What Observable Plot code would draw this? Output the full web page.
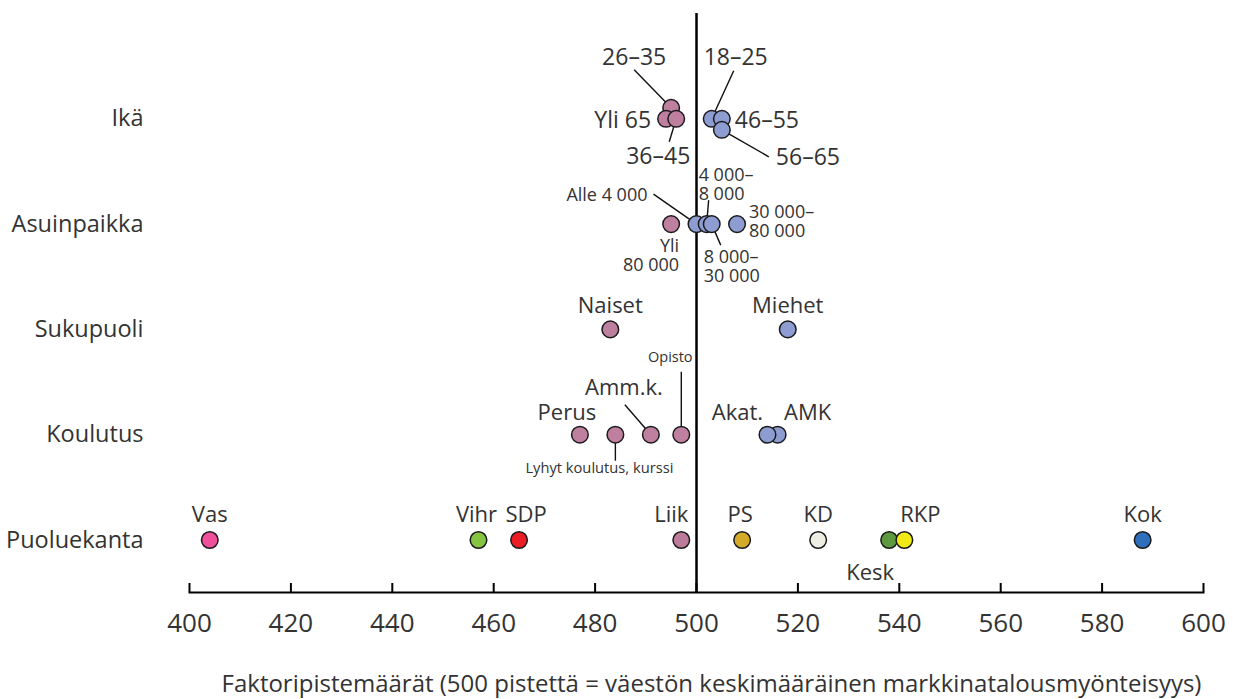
<!DOCTYPE html>
<html>
<head>
<meta charset="utf-8">
<script src="https://cdn.jsdelivr.net/npm/d3@7"></script>
<script src="https://cdn.jsdelivr.net/npm/@observablehq/plot@0.6"></script>
<style>
  html, body { margin: 0; padding: 0; background: #fff; }
  #chart svg { display: block; }
</style>
</head>
<body>
<div id="chart"></div>
<script>
// ---------------- DATA ----------------
const rows = ["Ikä", "Asuinpaikka", "Sukupuoli", "Koulutus", "Puoluekanta"];

const ageLabels = ["26–35", "Yli 65", "36–45", "18–25", "46–55", "56–65"];
const ageValues = [495, 494, 496, 503, 505, 505];
const ageLanes  = [-1, 0, 0, 0, 0, 1];   // stacking lane inside the row

const residenceLabels = ["Yli\n80 000", "Alle 4 000", "4 000–\n8 000", "8 000–\n30 000", "30 000–\n80 000"];
const residenceValues = [495, 500, 502, 503, 508];

const genderLabels = ["Naiset", "Miehet"];
const genderValues = [483, 518];

const educationLabels = ["Perus", "Lyhyt koulutus, kurssi", "Amm.k.", "Opisto", "AMK", "Akat."];
const educationValues = [477, 484, 491, 497, 516, 514];

const partyLabels = ["Vas", "Vihr", "SDP", "Liik", "PS", "KD", "Kesk", "RKP", "Kok"];
const partyValues = [404, 457, 465, 497, 509, 524, 538, 541, 588];

const xTicks = [400, 420, 440, 460, 480, 500, 520, 540, 560, 580, 600];
const axisTitle = "Faktoripistemäärät (500 pistettä = väestön keskimääräinen markkinatalousmyönteisyys)";

// ---------------- STYLE ----------------
const PINK = "#bf7f9f";
const BLUE = "#8d9dd2";
const partyColors = {
  "Vas": "#f0509b", "Vihr": "#84c441", "SDP": "#ec1c24", "Liik": "#bd7b9c",
  "PS": "#d4ab29", "KD": "#efeee4", "Kesk": "#5b9a3e", "RKP": "#f2ea17", "Kok": "#2e6fbb"
};
const TEXT = "#333";

// ---------------- LAYOUT ----------------
const W = 1233, H = 699, ML = 189, MR = 30, MT = 13, MB = 107;
const ROW_TOP = 118.3, ROW_BOTTOM = 539.5;
const X_DOMAIN = [400, 600];
const pxX = (W - ML - MR) / (X_DOMAIN[1] - X_DOMAIN[0]);
const pxY = (ROW_BOTTOM - ROW_TOP) / (rows.length - 1);
const LANE_PX = 11;

// label placement relative to the dot, in pixels; leader = start of leader line
const labelLayout = {
  "26–35":   {dx: -37, dy: -51, anchor: "middle", size: 23, leader: [-37, -38]},
  "Yli 65":  {dx: -15, dy: 1, anchor: "end", size: 23},
  "36–45":   {dx: -18, dy: 37, anchor: "middle", size: 23, leader: [-7, 23]},
  "18–25":   {dx: 24, dy: -62, anchor: "middle", size: 23, leader: [22, -48]},
  "46–55":   {dx: 13, dy: 1, anchor: "start", size: 23},
  "56–65":   {dx: 54, dy: 27, anchor: "start", size: 23, leader: [47, 27]},

  "Yli\n80 000":      {dx: 8, dy: 31, anchor: "end", size: 18},
  "Alle 4 000":       {dx: -49, dy: -29, anchor: "end", size: 18, leader: [-43, -30]},
  "4 000–\n8 000":    {dx: -8, dy: -40, anchor: "start", size: 18, leader: [2, -24]},
  "8 000–\n30 000":   {dx: -8, dy: 42, anchor: "start", size: 18, leader: [9, 21]},
  "30 000–\n80 000":  {dx: 12, dy: -3, anchor: "start", size: 18},

  "Naiset":  {dx: 0, dy: -24, anchor: "middle"},
  "Miehet":  {dx: 0, dy: -24, anchor: "middle"},

  "Perus":   {dx: -13, dy: -22, anchor: "middle"},
  "Lyhyt koulutus, kurssi": {dx: -16, dy: 33, anchor: "middle", size: 14.7, leader: [0, 26]},
  "Amm.k.":  {dx: -27, dy: -47, anchor: "middle", leader: [-26, -30]},
  "Opisto":  {dx: -11, dy: -78, anchor: "middle", size: 14.5, leader: [0, -63]},
  "Akat.":   {dx: -30, dy: -22, anchor: "middle"},
  "AMK":     {dx: 30, dy: -22, anchor: "middle"},

  "Vas":  {dx: 0, dy: -25, anchor: "middle"},
  "Vihr": {dx: -2, dy: -25, anchor: "middle"},
  "SDP":  {dx: 7, dy: -25, anchor: "middle"},
  "Liik": {dx: -10, dy: -25, anchor: "middle"},
  "PS":   {dx: -2, dy: -25, anchor: "middle"},
  "KD":   {dx: 0, dy: -25, anchor: "middle"},
  "Kesk": {dx: -19, dy: 33, anchor: "middle"},
  "RKP":  {dx: 16, dy: -25, anchor: "middle"},
  "Kok":  {dx: 0, dy: -25, anchor: "middle"}
};

// ---------------- BUILD ----------------
const groups = [
  {row: "Ikä", labels: ageLabels, values: ageValues, lanes: ageLanes},
  {row: "Asuinpaikka", labels: residenceLabels, values: residenceValues},
  {row: "Sukupuoli", labels: genderLabels, values: genderValues},
  {row: "Koulutus", labels: educationLabels, values: educationValues},
  {row: "Puoluekanta", labels: partyLabels, values: partyValues, party: true}
];

const points = [];
for (const g of groups) {
  g.labels.forEach((label, i) => {
    points.push({
      row: rows.indexOf(g.row),
      label,
      value: g.values[i],
      lane: g.lanes ? g.lanes[i] : 0,
      party: !!g.party
    });
  });
}

const yOf = d => d.row + d.lane * LANE_PX / pxY;
const fillOf = d => d.party ? partyColors[d.label] : (d.value < 500 ? PINK : BLUE);
const lay = d => labelLayout[d.label];

const labels = points.map(d => ({
  text: d.label,
  x: d.value + lay(d).dx / pxX,
  y: yOf(d) + lay(d).dy / pxY,
  anchor: lay(d).anchor,
  size: lay(d).size || 22
}));

const leaders = points.filter(d => lay(d).leader).map(d => ({
  x1: d.value + lay(d).leader[0] / pxX,
  y1: yOf(d) + lay(d).leader[1] / pxY,
  x2: d.value,
  y2: yOf(d)
}));

const textMark = anchor => Plot.text(labels.filter(l => l.anchor === anchor), {
  x: "x", y: "y", text: "text", textAnchor: anchor,
  fontSize: "size", lineHeight: 1.05, lineAnchor: "middle", fill: TEXT
});

const chart = Plot.plot({
  width: W, height: H,
  marginLeft: ML, marginRight: MR, marginTop: MT, marginBottom: MB,
  x: {domain: X_DOMAIN},
  y: {domain: [0, rows.length - 1], range: [ROW_TOP, ROW_BOTTOM]},
  color: {type: "identity"},
  style: {fontFamily: "'Open Sans', sans-serif", color: TEXT, background: "white", overflow: "visible"},
  marks: [
    Plot.axisY({ticks: d3.range(rows.length), tickFormat: i => rows[i], tickSize: 0, tickPadding: 46, fontSize: 23.5, label: null, fill: TEXT}),
    Plot.axisX({ticks: xTicks, tickSize: 0, tickPadding: 21, fontSize: 26, label: null, fill: TEXT}),
    Plot.tickX(xTicks, {x: d => d, stroke: "black", strokeWidth: 2, insetTop: (H - MT - MB) - 9}),
    Plot.frame({anchor: "bottom", stroke: "black", strokeWidth: 2}),
    Plot.ruleX([500], {stroke: "black", strokeWidth: 2.5}),
    Plot.link(leaders, {x1: "x1", y1: "y1", x2: "x2", y2: "y2", stroke: "#111", strokeWidth: 1.4}),
    Plot.dot(points, {x: "value", y: yOf, r: 8.3, fill: fillOf, stroke: "#1a1a1a", strokeWidth: 1.5}),
    textMark("start"),
    textMark("middle"),
    textMark("end"),
    Plot.text([axisTitle], {frameAnchor: "bottom", dy: 92, dx: 15, fontSize: 24, lineAnchor: "middle", fill: TEXT})
  ]
});

document.getElementById("chart").appendChild(chart);
</script>
</body>
</html>
